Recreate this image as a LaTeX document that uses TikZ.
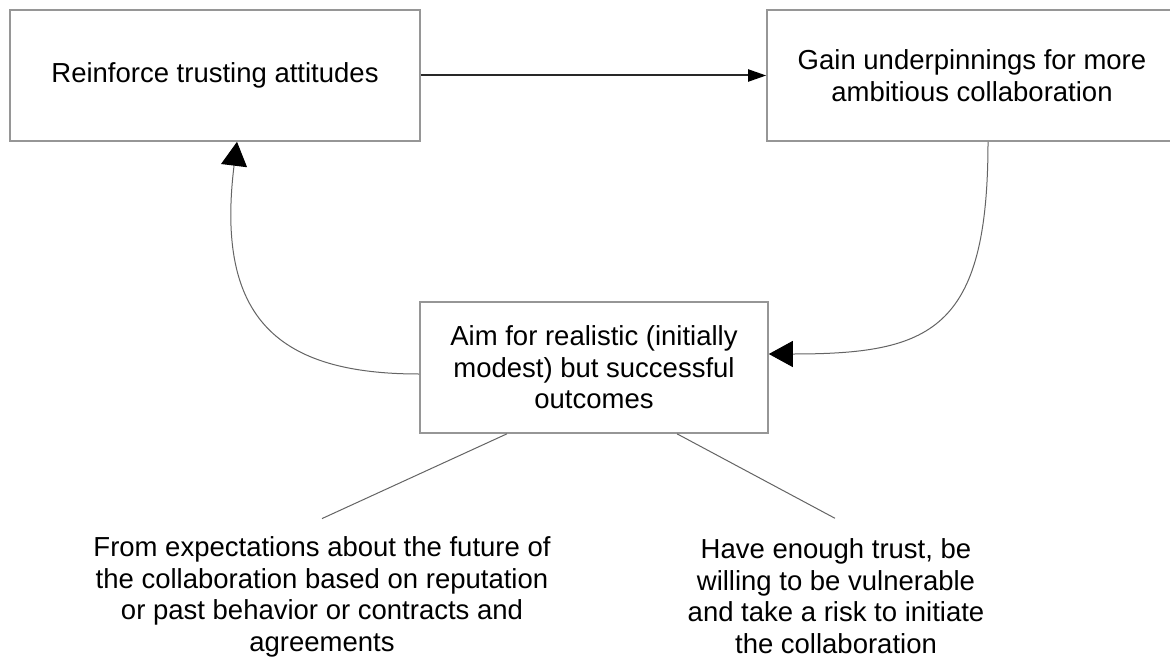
\documentclass[tikz,border=0pt]{standalone}
\usepackage{fontspec}
\setmainfont{Liberation Sans}
\usetikzlibrary{arrows.meta}
\definecolor{boxgray}{RGB}{150,150,150}
\definecolor{linegray}{RGB}{100,100,100}
\definecolor{arrowdark}{RGB}{40,40,40}
\tikzset{
  txt/.style={font=\fontsize{27.5}{31.6}\selectfont, align=center, inner sep=0pt},
  stagebox/.style={txt, draw=boxgray, line width=1.6pt, fill=white},
  flowarrow/.style={draw=arrowdark, line width=2pt, -{Triangle[length=18pt,width=12pt,color=black]}},
  loopcurve/.style={draw=linegray, line width=1pt, -{Triangle[length=24pt,width=26pt,color=black]}},
  leader/.style={draw=linegray, line width=1pt}
}
\begin{document}
\begin{tikzpicture}[x=1pt,y=-1pt]
  \useasboundingbox (0,0) rectangle (1170,661);
  \fill[white] (0,0) rectangle (1170,661);

  % stage boxes
  \node[stagebox, minimum width=410pt, minimum height=131pt] (b1) at (215,75.5)
    {Reinforce trusting attitudes};
  \node[stagebox, minimum width=410pt, minimum height=131pt] (b2) at (972,75.5)
    {Gain underpinnings for more\\ambitious collaboration};
  \node[stagebox, minimum width=348pt, minimum height=131pt] (b3) at (594,367.5)
    {Aim for realistic (initially\\modest) but successful\\outcomes};

  % preconditions
  \node[txt] (t1) at (322,597)
    {From expectations about the future of\\the collaboration based on reputation\\or past behavior or contracts and\\agreements};
  \node[txt] (t2) at (836,596)
    {Have enough trust, be\\willing to be vulnerable\\and take a risk to initiate\\the collaboration};

  % flow between the stages
  \draw[flowarrow] (b1.east) -- (b2.west);
  \draw[loopcurve] ([xshift=16pt]b2.south)
    .. controls +(0,189) and +(162,0) .. ([yshift=13.5pt]b3.east);
  \draw[loopcurve] ([yshift=-6.5pt]b3.west)
    .. controls +(-140,0) and +(-22,178) .. ([xshift=22pt]b1.south);

  % leaders to the preconditions
  \draw[leader] ([xshift=-87pt]b3.south) -- ([yshift=18pt]t1.north);
  \draw[leader] ([xshift=83pt]b3.south) -- ([yshift=20pt,xshift=-1pt]t2.north);
\end{tikzpicture}
\end{document}
